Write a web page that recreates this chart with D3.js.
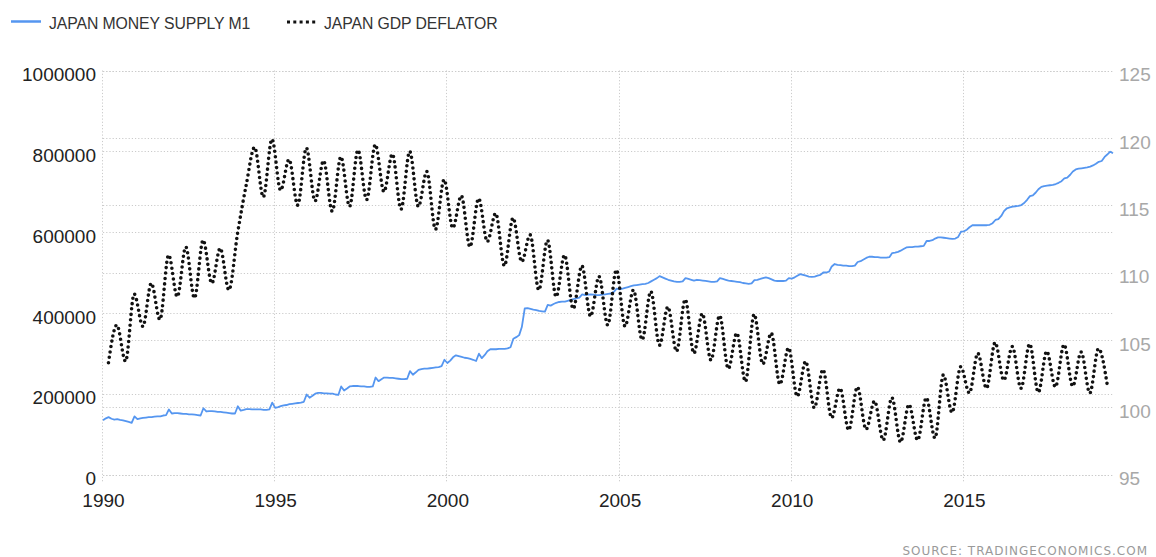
<!DOCTYPE html>
<html>
<head>
<meta charset="utf-8">
<script src="https://cdn.jsdelivr.net/npm/d3@7"></script>
<style>
  body { margin: 0; background: #fff; }
  #chart text { font-family: "Liberation Sans", Arial, sans-serif; }
</style>
</head>
<body>
<div id="chart"></div>
<script>
// マネーサプライM1 (月次, 1990年1月〜2019年5月)
var m1Values = [
  134000, 139000, 142000, 138000, 136000, 137000, 135000, 134000, 132000, 130000, 128000, 144000,
  137000, 139000, 140000, 141000, 142000, 142000, 143000, 144000, 144000, 146000, 147000, 161000,
  151000, 152000, 152000, 151000, 150000, 150000, 149000, 149000, 148000, 147000, 146000, 164000,
  156000, 157000, 157000, 156000, 155000, 155000, 154000, 153000, 152000, 151000, 151000, 169000,
  158000, 160000, 162000, 162000, 161000, 161000, 161000, 161000, 160000, 160000, 161000, 178000,
  165000, 167000, 169000, 171000, 172000, 174000, 175000, 176000, 177000, 178000, 180000, 198000,
  190000, 195000, 200000, 202000, 202000, 201000, 201000, 200000, 200000, 198000, 197000, 218000,
  208000, 213000, 218000, 219000, 219000, 219000, 218000, 218000, 217000, 217000, 218000, 240000,
  231000, 236000, 240000, 240000, 239000, 239000, 238000, 237000, 236000, 236000, 237000, 256000,
  247000, 253000, 259000, 261000, 262000, 262000, 263000, 264000, 265000, 266000, 268000, 284000,
  276000, 282000, 290000, 295000, 293000, 291000, 289000, 288000, 286000, 284000, 281000, 299000,
  288000, 296000, 305000, 310000, 310000, 310000, 311000, 311000, 311000, 312000, 315000, 336000,
  340000, 345000, 365000, 411000, 412000, 410000, 408000, 407000, 405000, 404000, 403000, 420000,
  418000, 422000, 425000, 427000, 428000, 428000, 430000, 432000, 434000, 436000, 438000, 446000,
  444000, 445000, 446000, 445000, 444000, 444000, 445000, 446000, 447000, 448000, 452000, 460000,
  458000, 460000, 462000, 464000, 466000, 468000, 469000, 470000, 471000, 472000, 474000, 478000,
  482000, 486000, 491000, 488000, 485000, 482000, 480000, 478000, 477000, 477000, 478000, 486000,
  484000, 482000, 480000, 482000, 481000, 480000, 479000, 478000, 477000, 477000, 478000, 486000,
  484000, 482000, 480000, 479000, 478000, 477000, 476000, 474000, 473000, 472000, 473000, 481000,
  482000, 484000, 486000, 488000, 486000, 483000, 480000, 479000, 479000, 479000, 480000, 486000,
  485000, 488000, 492000, 496000, 494000, 492000, 490000, 489000, 490000, 492000, 494000, 500000,
  500000, 502000, 515000, 521000, 519000, 518000, 517000, 517000, 516000, 516000, 517000, 526000,
  528000, 532000, 536000, 539000, 539000, 538000, 538000, 537000, 537000, 537000, 538000, 548000,
  549000, 551000, 554000, 558000, 562000, 563000, 563000, 564000, 564000, 565000, 566000, 578000,
  578000, 580000, 584000, 587000, 587000, 586000, 585000, 584000, 583000, 584000, 588000, 601000,
  602000, 606000, 612000, 617000, 617000, 617000, 617000, 617000, 617000, 618000, 622000, 630000,
  632000, 640000, 652000, 659000, 661000, 663000, 664000, 665000, 667000, 672000, 680000, 689000,
  691000, 698000, 706000, 712000, 714000, 715000, 716000, 717000, 719000, 722000, 726000, 733000,
  735000, 742000, 750000, 755000, 757000, 758000, 759000, 760000, 762000, 765000, 769000, 774000,
  776000, 786000, 792000, 799000, 795000
];

// GDPデフレーター (四半期, 1990Q1〜2019Q1)
var deflatorValues = [
  103.3, 106.1, 103.4, 108.4,
  106.0, 109.2, 106.5, 111.3,
  108.2, 111.9, 108.1, 112.4,
  109.2, 111.8, 108.7, 112.9,
  116.5, 119.3, 115.6, 119.9,
  116.1, 118.4, 115.0, 119.25,
  115.3, 118.3, 114.55, 118.6,
  114.9, 119.1, 115.4, 119.5,
  116.0, 118.8, 114.7, 119.0,
  114.9, 117.5, 113.2, 116.9,
  113.3, 115.7, 111.9, 115.5,
  112.3, 114.4, 110.5, 114.05,
  110.8, 112.8, 108.7, 112.4,
  108.2, 111.3, 107.3, 110.5,
  106.75, 109.7, 106.1, 110.2,
  106.0, 108.7, 105.0, 108.6,
  104.6, 107.45, 104.15, 108.0,
  104.0, 106.95, 103.5, 106.8,
  102.85, 105.5, 101.9, 106.9,
  103.2, 105.5, 101.7, 104.4,
  100.8, 103.4, 99.95, 102.8,
  99.2, 101.4, 98.3, 101.5,
  98.35, 100.45, 97.55, 100.7,
  97.4, 100.2, 97.55, 100.7,
  97.7, 102.4, 99.6, 103.0,
  101.05, 104.0, 101.4, 104.8,
  102.0, 104.5, 101.4, 104.7,
  101.1, 104.15, 101.5, 104.65,
  101.55, 104.1, 101.05, 104.35,
  101.7
];

var seriesNames = ["JAPAN MONEY SUPPLY M1", "JAPAN GDP DEFLATOR"];
var leftTicks = [0, 200000, 400000, 600000, 800000, 1000000];
var rightTicks = [95, 100, 105, 110, 115, 120, 125];
var yearTicks = [1990, 1995, 2000, 2005, 2010, 2015];
var sourceLabel = "SOURCE:  TRADINGECONOMICS.COM";

var width = 1156;
var height = 557;
var margin = {top: 70.5, right: 43, bottom: 82.5, left: 103};
var bottomY = height - margin.bottom;

var m1Data = m1Values.map(function(v, i){ return {date: new Date(1990, i, 1), value: v}; });
var deflatorData = deflatorValues.map(function(v, i){ return {date: new Date(1990, 1 + 3 * i, 28), value: v}; });

var svg = d3.select("#chart")
    .append("svg")
    .attr("width", width)
    .attr("height", height);

var xScale = d3.scaleTime()
    .domain([new Date(1990, 0, 1), new Date(2019, 4, 1)])
    .range([margin.left, width - margin.right]);
var yLeft = d3.scaleLinear()
    .domain([0, 1000000])
    .range([bottomY, margin.top]);
var yRight = d3.scaleLinear()
    .domain([95, 125])
    .range([bottomY, margin.top]);

var gridColor = "#cbcbcb";

// グリッド線
var grid = svg.append("g").attr("class", "grid");
grid.selectAll("line.hl")
    .data(leftTicks)
    .enter()
    .append("line")
    .attr("x1", margin.left)
    .attr("x2", width - margin.right)
    .attr("y1", function(d){ return Math.round(yLeft(d)) + 0.5; })
    .attr("y2", function(d){ return Math.round(yLeft(d)) + 0.5; });
grid.selectAll("line.hr")
    .data(rightTicks)
    .enter()
    .append("line")
    .attr("x1", margin.left)
    .attr("x2", width - margin.right)
    .attr("y1", function(d){ return Math.round(yRight(d)) + 0.5; })
    .attr("y2", function(d){ return Math.round(yRight(d)) + 0.5; });
grid.selectAll("line.v")
    .data(yearTicks)
    .enter()
    .append("line")
    .attr("x1", function(d){ return Math.round(xScale(new Date(d, 0, 1))) - 0.5; })
    .attr("x2", function(d){ return Math.round(xScale(new Date(d, 0, 1))) - 0.5; })
    .attr("y1", margin.top)
    .attr("y2", bottomY + 7);
grid.selectAll("line")
    .attr("stroke", gridColor)
    .attr("stroke-width", 1)
    .attr("stroke-dasharray", "1.2 2");

// 軸
var leftAxis = svg.append("g")
    .attr("transform", "translate(" + margin.left + ",0)")
    .call(d3.axisLeft(yLeft).tickValues(leftTicks).tickSize(0).tickPadding(7)
        .tickFormat(function(d){ return String(d); }));
var rightAxis = svg.append("g")
    .attr("transform", "translate(" + (width - margin.right) + ",0)")
    .call(d3.axisRight(yRight).tickValues(rightTicks).tickSize(0).tickPadding(6));
var bottomAxis = svg.append("g")
    .attr("transform", "translate(0," + bottomY + ")")
    .call(d3.axisBottom(xScale)
        .tickValues(yearTicks.map(function(y){ return new Date(y, 0, 1); }))
        .tickSize(0).tickPadding(19)
        .tickFormat(d3.timeFormat("%Y")));

[leftAxis, rightAxis, bottomAxis].forEach(function(a){
    a.select(".domain").remove();
    a.selectAll("text")
        .style("font-family", "'Liberation Sans', Arial, sans-serif")
        .style("font-size", "19px");
});
leftAxis.selectAll("text").attr("fill", "#222").attr("dy", "0.54em");
rightAxis.selectAll("text").attr("fill", "#a8a8a8").attr("dy", "0.54em");
bottomAxis.selectAll("text").attr("fill", "#222");

// M1 ライン
var m1Line = d3.line()
    .x(function(d){ return xScale(d.date); })
    .y(function(d){ return yLeft(d.value); });
svg.append("path")
    .datum(m1Data)
    .attr("fill", "none")
    .attr("stroke", "#5596f0")
    .attr("stroke-width", 1.8)
    .attr("stroke-linejoin", "round")
    .attr("d", m1Line);

// GDPデフレーター (点線, スプライン)
var deflatorLine = d3.line()
    .curve(d3.curveMonotoneX)
    .x(function(d){ return xScale(d.date); })
    .y(function(d){ return yRight(d.value); });
svg.append("path")
    .datum(deflatorData)
    .attr("fill", "none")
    .attr("stroke", "#111")
    .attr("stroke-width", 3.6)
    .attr("stroke-linecap", "round")
    .attr("stroke-dasharray", "0 5.4")
    .attr("d", deflatorLine);

// 凡例
var legend = svg.append("g").attr("class", "legend");
legend.append("line")
    .attr("x1", 11).attr("x2", 41).attr("y1", 21.5).attr("y2", 21.5)
    .attr("stroke", "#5596f0").attr("stroke-width", 2.5);
legend.append("line")
    .attr("x1", 287).attr("x2", 318).attr("y1", 22).attr("y2", 22)
    .attr("stroke", "#111").attr("stroke-width", 3).attr("stroke-dasharray", "3 3.3");
legend.selectAll("text")
    .data(seriesNames)
    .enter()
    .append("text")
    .attr("x", function(d, i){ return i === 0 ? 49 : 324; })
    .attr("y", 28.5)
    .attr("fill", "#333")
    .style("font-size", "15.8px")
    .style("letter-spacing", "-0.1px")
    .text(function(d){ return d; });

// 出典
svg.append("text")
    .attr("x", 1148)
    .attr("y", 555)
    .attr("text-anchor", "end")
    .attr("fill", "#9a9a9a")
    .style("font-family", "'DejaVu Sans', Verdana, sans-serif")
    .style("font-size", "12px")
    .style("letter-spacing", "1px")
    .text(sourceLabel);
</script>
</body>
</html>
